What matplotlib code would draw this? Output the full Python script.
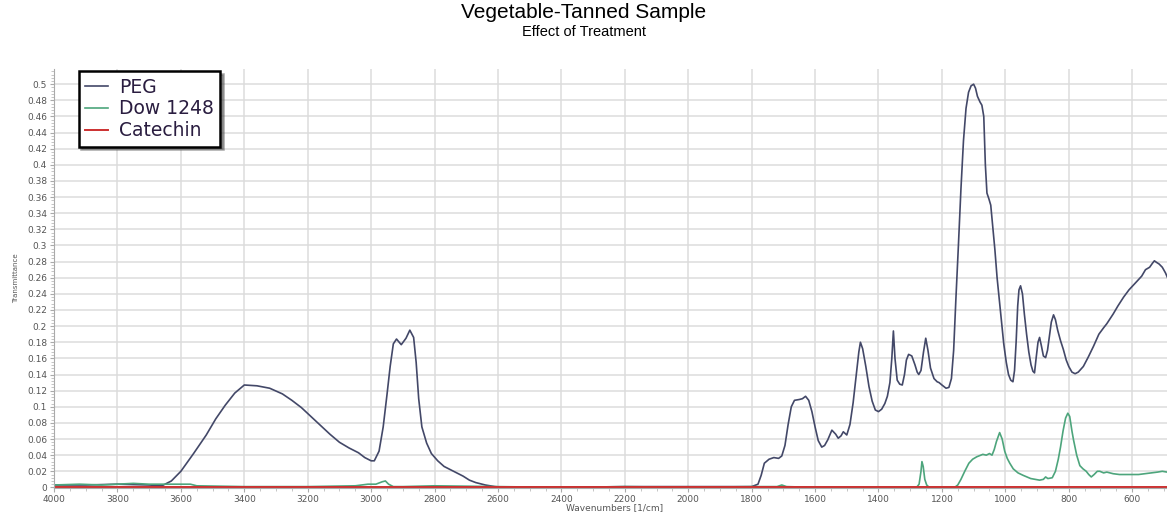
import matplotlib
matplotlib.use("Agg")
import matplotlib.pyplot as plt
from matplotlib.ticker import MultipleLocator, FuncFormatter

# datos (numero de onda en 1/cm, transmitancia)
peg_x = [4000, 3900, 3800, 3700, 3660, 3630, 3600, 3560, 3520, 3490, 3460, 3430, 3400,
         3360, 3320, 3280, 3250, 3220, 3190, 3160, 3130, 3100, 3070, 3040, 3020, 3000, 2990,
         2975, 2962, 2950, 2940, 2930, 2920, 2905, 2890, 2878, 2866, 2858, 2850, 2840, 2825,
         2810, 2790, 2770, 2750, 2730, 2710, 2690, 2670, 2640, 2610, 2580, 2400, 2200, 2000,
         1800, 1780, 1770, 1760, 1745, 1730, 1715, 1705, 1695, 1685, 1675, 1665, 1650, 1640,
         1630, 1620, 1610, 1600, 1590, 1579, 1570, 1560, 1547, 1535, 1527, 1518, 1511, 1500,
         1490, 1480, 1470, 1462, 1457, 1450, 1440, 1430, 1420, 1410, 1400, 1390, 1380, 1372,
         1364, 1358, 1353, 1348, 1341, 1333, 1325, 1318, 1312, 1305, 1295, 1285, 1278, 1273,
         1266, 1258, 1251, 1244, 1236, 1225, 1215, 1209, 1200, 1187, 1178, 1170, 1163, 1156,
         1148, 1140, 1132, 1124, 1116, 1108, 1100, 1094, 1088, 1080, 1074, 1068, 1063, 1058,
         1052, 1046, 1040, 1033, 1026, 1019, 1012, 1005, 997, 990, 983, 976, 971, 966, 961,
         957, 952, 946, 940, 933, 926, 919, 913, 908, 903, 897, 892, 886, 880, 873, 867, 861,
         855, 848, 842, 835, 826, 817, 808, 800, 790, 780, 770, 754, 738, 722, 705, 690, 680,
         660, 645, 627, 610, 598, 584, 570, 558, 545, 536, 530, 523, 515, 505, 495, 484, 475, 467]
peg_y = [0.003, 0.003, 0.004, 0.003, 0.002, 0.008, 0.02, 0.042, 0.065, 0.085, 0.102, 0.117, 0.127,
         0.126, 0.123, 0.116, 0.108, 0.099, 0.088, 0.077, 0.066, 0.056, 0.049, 0.043, 0.037, 0.033, 0.033,
         0.045, 0.075, 0.115, 0.15, 0.178, 0.184, 0.177, 0.185, 0.195, 0.186, 0.155, 0.11, 0.075, 0.055,
         0.042, 0.033, 0.026, 0.022, 0.018, 0.014, 0.009, 0.006, 0.003, 0.001, 0.0, 0.0, 0.001, 0.001,
         0.001, 0.004, 0.015, 0.03, 0.035, 0.037, 0.036, 0.039, 0.052, 0.078, 0.1, 0.108, 0.109, 0.11,
         0.113, 0.108, 0.094, 0.075, 0.058, 0.05, 0.052, 0.059, 0.071, 0.066, 0.061, 0.064, 0.069, 0.065,
         0.078, 0.105, 0.14, 0.168, 0.18, 0.172, 0.15, 0.125, 0.107, 0.096, 0.094, 0.097, 0.104, 0.113,
         0.13, 0.16, 0.194, 0.16, 0.133, 0.128, 0.127, 0.14, 0.158, 0.165, 0.163, 0.152, 0.143, 0.14,
         0.145, 0.168, 0.185, 0.17, 0.148, 0.135, 0.131, 0.13, 0.127, 0.123, 0.124, 0.135, 0.17, 0.233,
         0.3, 0.37, 0.43, 0.47, 0.49, 0.498, 0.5, 0.495, 0.485, 0.478, 0.474, 0.46, 0.4, 0.365,
         0.358, 0.35, 0.325, 0.295, 0.26, 0.233, 0.205, 0.178, 0.155, 0.14, 0.133, 0.131, 0.145, 0.18, 0.225,
         0.245, 0.25, 0.24, 0.215, 0.19, 0.168, 0.152, 0.144, 0.142, 0.16, 0.18, 0.186, 0.175, 0.163, 0.161, 0.17, 0.188,
         0.205, 0.214, 0.208, 0.195, 0.182, 0.171, 0.158, 0.15, 0.143, 0.141, 0.143, 0.15, 0.162, 0.175, 0.19, 0.198, 0.203,
         0.215, 0.225, 0.236, 0.245, 0.25, 0.256, 0.262, 0.27, 0.273, 0.278, 0.281, 0.279, 0.277, 0.273, 0.266, 0.256, 0.255, 0.254]

dow_x = [4000, 3920, 3850, 3800, 3750, 3700, 3650, 3600, 3570, 3550, 3400, 3200, 3050, 3010,
         2985, 2965, 2955, 2945, 2930, 2900, 2800, 2600, 2400, 2200, 2000, 1800, 1720, 1705,
         1690, 1600, 1400, 1280, 1272, 1266, 1263, 1259, 1254, 1248, 1240, 1200, 1160, 1150,
         1140, 1128, 1115, 1103, 1090, 1071, 1060, 1050, 1042, 1035, 1028, 1018, 1010, 1002,
         994, 986, 975, 960, 944, 920, 892, 880, 873, 866, 852, 842, 833, 826, 818, 810, 803,
         797, 790, 785, 775, 765, 755, 745, 737, 729, 720, 710, 702, 690, 680, 660, 640, 620,
         600, 580, 560, 540, 520, 505, 490, 475, 467]
dow_y = [0.003, 0.004, 0.003, 0.004, 0.005, 0.004, 0.004, 0.004, 0.004, 0.002, 0.001, 0.001, 0.002, 0.004,
         0.004, 0.007, 0.008, 0.004, 0.001, 0.001, 0.002, 0.001, 0.0, 0.001, 0.0, 0.001, 0.001, 0.003,
         0.001, 0.0, 0.0, 0.0, 0.004, 0.02, 0.032, 0.026, 0.01, 0.003, 0.0, 0.0, 0.0, 0.003,
         0.01, 0.02, 0.03, 0.035, 0.038, 0.041, 0.04, 0.042, 0.04, 0.047, 0.057, 0.068, 0.06, 0.045,
         0.036, 0.03, 0.023, 0.018, 0.015, 0.011, 0.009, 0.01, 0.013, 0.011, 0.012, 0.02, 0.035, 0.05, 0.07, 0.086, 0.092,
         0.088, 0.07, 0.059, 0.04, 0.027, 0.023, 0.02, 0.016, 0.013, 0.016, 0.02, 0.02, 0.018, 0.019, 0.017, 0.016, 0.016,
         0.016, 0.016, 0.017, 0.018, 0.019, 0.02, 0.019, 0.018, 0.018]

cat_x = [4000, 3000, 2000, 1000, 467]
cat_y = [0.0, 0.0, 0.0, 0.0, 0.0]

fig = plt.figure(figsize=(11.67, 5.19), dpi=100)
ax = fig.add_axes([0.0463, 0.0593, 0.96, 0.808])

ax.plot(peg_x, peg_y, color="#434868", lw=1.2, label="PEG")
ax.plot(dow_x, dow_y, color="#4da57c", lw=1.2, label="Dow 1248")
ax.plot(cat_x, cat_y, color="#cc3030", lw=1.4, label="Catechin")

ax.set_xlim(4000, 467)
ax.set_ylim(-0.001, 0.519)

ax.xaxis.set_major_locator(MultipleLocator(200))
ax.xaxis.set_minor_locator(MultipleLocator(50))
ax.yaxis.set_major_locator(MultipleLocator(0.02))
ax.yaxis.set_minor_locator(MultipleLocator(0.004))
ax.yaxis.set_major_formatter(FuncFormatter(lambda v, p: "0" if abs(v) < 1e-9 else f"{v:.2f}".rstrip("0")))

# cuadricula gris clara
ax.grid(True, which="major", color="#dcdcdc", lw=1.1)
ax.set_axisbelow(True)
for s in ["top", "right"]:
    ax.spines[s].set_visible(False)
ax.spines["left"].set_color("#aaaaaa")
ax.spines["bottom"].set_color("#aaaaaa")
ax.tick_params(axis="both", which="major", labelsize=6.5, labelcolor="#555555", color="#aaaaaa", length=3, pad=2)
ax.tick_params(axis="both", which="minor", color="#bbbbbb", length=2)

ax.set_xlabel("Wavenumbers [1/cm]", fontsize=6.5, color="#555555", labelpad=-1)
ax.set_ylabel("Transmittance", fontsize=5, color="#555555", labelpad=6)

leg = ax.legend(loc="upper left", bbox_to_anchor=(0.022, 0.995), fontsize=13.5, frameon=True,
                fancybox=False, shadow=True, handlelength=1.2, handletextpad=0.6,
                borderpad=0.35, labelspacing=0.15, borderaxespad=0)
leg.get_frame().set_edgecolor("black")
leg.get_frame().set_linewidth(1.8)
for t in leg.get_texts():
    t.set_color("#2a1d40")

fig.text(0.5, 1 - 12 / 519, "Vegetable-Tanned Sample", ha="center", va="center",
         fontsize=15, family="Liberation Sans")
fig.text(0.5, 1 - 32 / 519, "Effect of Treatment", ha="center", va="center",
         fontsize=10.5, family="Liberation Sans")

fig.savefig("out.png", dpi=100)
